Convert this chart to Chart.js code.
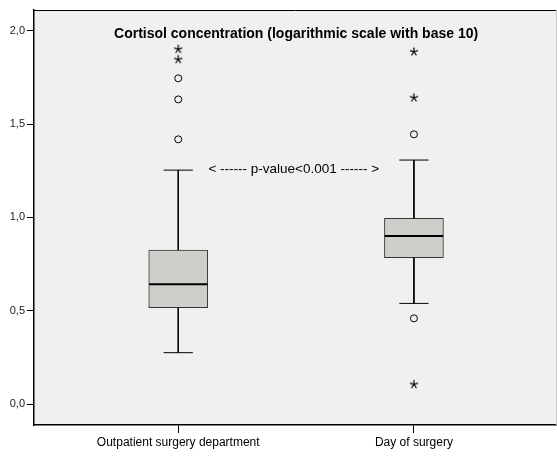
<!DOCTYPE html>
<html><head><meta charset="utf-8">
<script src="https://cdn.jsdelivr.net/npm/chart.js@4"></script>
<style>html,body{margin:0;padding:0;background:#fff}#wrap{width:557px;height:456px;position:relative}</style>
</head><body><div id="wrap"><canvas id="c" width="557" height="456"></canvas></div>
<script>
const categories = ['Outpatient surgery department', 'Day of surgery'];
const whiskerLow  = [0.275, 0.539];
const q1          = [0.516, 0.784];
const median      = [0.641, 0.900];
const q3          = [0.825, 0.995];
const whiskerHigh = [1.253, 1.307];
const circleOutliers = [[1.418, 1.632, 1.745], [0.459, 1.445]];
const starOutliers   = [[1.846, 1.901], [0.105, 1.641, 1.887]];
const yTicks = [0.0, 0.5, 1.0, 1.5, 2.0];
const titleText = 'Cortisol concentration (logarithmic scale with base 10)';
const pText = '< ------ p-value<0.001 ------ >';

const FONT = "'Liberation Sans', Arial, sans-serif";
Chart.defaults.font.family = FONT;

// asterisk point style (5 arms)
const starImg = document.createElement('canvas');
starImg.width = 10; starImg.height = 10;
(function(){
  const g = starImg.getContext('2d');
  g.strokeStyle = '#000';
  g.lineWidth = 1.2;
  g.lineCap = 'round';
  const r = 3.8;
  for (let k = 0; k < 5; k++) {
    const ang = -Math.PI / 2 + k * 2 * Math.PI / 5;
    g.beginPath();
    g.moveTo(5, 5);
    g.lineTo(5 + r * Math.cos(ang), 5 + r * Math.sin(ang));
    g.stroke();
  }
})();

const capHalf = 0.062, medHalf = 0.124;
const whiskerData = [];
const medianData = [];
categories.forEach((c, i) => {
  const x = i + 1;
  whiskerData.push({x, y: whiskerHigh[i]}, {x, y: q3[i]}, {x, y: null});
  whiskerData.push({x, y: q1[i]}, {x, y: whiskerLow[i]}, {x, y: null});
  whiskerData.push({x: x - capHalf, y: whiskerHigh[i]}, {x: x + capHalf, y: whiskerHigh[i]}, {x, y: null});
  whiskerData.push({x: x - capHalf, y: whiskerLow[i]}, {x: x + capHalf, y: whiskerLow[i]}, {x, y: null});
  medianData.push({x: x - medHalf, y: median[i]}, {x: x + medHalf, y: median[i]}, {x, y: null});
});
const circleData = [], starData = [];
categories.forEach((c, i) => {
  circleOutliers[i].forEach(v => circleData.push({x: i + 1, y: v}));
  starOutliers[i].forEach(v => starData.push({x: i + 1, y: v}));
});
const boxData = categories.map((c, i) => ({x: i + 1, y: [q1[i], q3[i]]}));

const framePlugin = {
  id: 'frame',
  beforeDraw(chart) {
    const {ctx, chartArea: a} = chart;
    ctx.save();
    ctx.fillStyle = '#F0F0F0';
    ctx.fillRect(a.left, a.top, a.right - a.left, a.bottom - a.top);
    ctx.restore();
  },
  afterDraw(chart) {
    const {ctx, chartArea: a, scales} = chart;
    ctx.save();
    ctx.strokeStyle = '#000';
    ctx.lineWidth = 1;
    ctx.beginPath();
    ctx.moveTo(a.left, a.top + 0.5); ctx.lineTo(a.right, a.top + 0.5);
    ctx.stroke();
    ctx.strokeStyle = '#c8c8c8';
    ctx.beginPath();
    ctx.moveTo(a.right - 0.5, a.top); ctx.lineTo(a.right - 0.5, a.bottom);
    ctx.stroke();
    ctx.fillStyle = '#000';
    ctx.textAlign = 'center';
    ctx.textBaseline = 'middle';
    const cx = scales.x.getPixelForValue(1.5);
    ctx.font = 'bold 14px ' + FONT;
    ctx.fillText(titleText, cx, scales.y.getPixelForValue(1.982));
    ctx.font = '13.5px ' + FONT;
    ctx.fillText(pText, scales.x.getPixelForValue(1.49), scales.y.getPixelForValue(1.259));
    ctx.restore();
  }
};

new Chart(document.getElementById('c'), {
  type: 'bar',
  data: {
    datasets: [
      {type: 'line', data: medianData, borderColor: '#000', borderWidth: 2, pointRadius: 0, spanGaps: false, fill: false},
      {type: 'line', data: whiskerData, borderColor: '#000', borderWidth: 1, pointRadius: 0, spanGaps: false, fill: false},
      {type: 'line', data: circleData, showLine: false, pointStyle: 'circle', pointRadius: 3.5, borderColor: '#000', borderWidth: 1, backgroundColor: 'rgba(0,0,0,0)'},
      {type: 'line', data: starData, showLine: false, pointStyle: starImg, pointRadius: 4},
      {type: 'bar', data: boxData, backgroundColor: '#D0CECB', borderColor: '#333', borderWidth: 1, borderSkipped: false, barThickness: 59, grouped: false}
    ]
  },
  options: {
    responsive: false,
    animation: false,
    devicePixelRatio: 1,
    layout: {autoPadding: false, padding: {top: 10, right: 0, left: 0, bottom: 0}},
    plugins: {legend: {display: false}, tooltip: {enabled: false}, title: {display: false}},
    scales: {
      x: {
        type: 'linear', min: 0.388, max: 2.607, offset: false,
        afterBuildTicks: s => { s.ticks = categories.map((c, i) => ({value: i + 1})); },
        afterFit: s => { s.height = 31; s.paddingLeft = 0; s.paddingRight = 0; },
        ticks: {autoSkip: false, maxRotation: 0, padding: 2, color: '#000', font: {size: 12}, callback: (v, i) => categories[i]},
        grid: {offset: false, drawOnChartArea: false, drawTicks: true, tickLength: 8, color: '#000'},
        border: {display: true, color: '#000', width: 1.5}
      },
      y: {
        type: 'linear', min: -0.1125, max: 2.111,
        afterBuildTicks: s => { s.ticks = yTicks.map(v => ({value: v})); },
        afterFit: s => { s.width = 34; s.paddingTop = 0; s.paddingBottom = 0; },
        ticks: {padding: 2, color: '#222', font: {size: 11}, callback: v => v.toFixed(1).replace('.', ',')},
        grid: {drawOnChartArea: false, drawTicks: true, tickLength: 7, color: '#000'},
        border: {display: true, color: '#000', width: 1.5}
      }
    }
  },
  plugins: [framePlugin]
});
</script>
</body></html>
